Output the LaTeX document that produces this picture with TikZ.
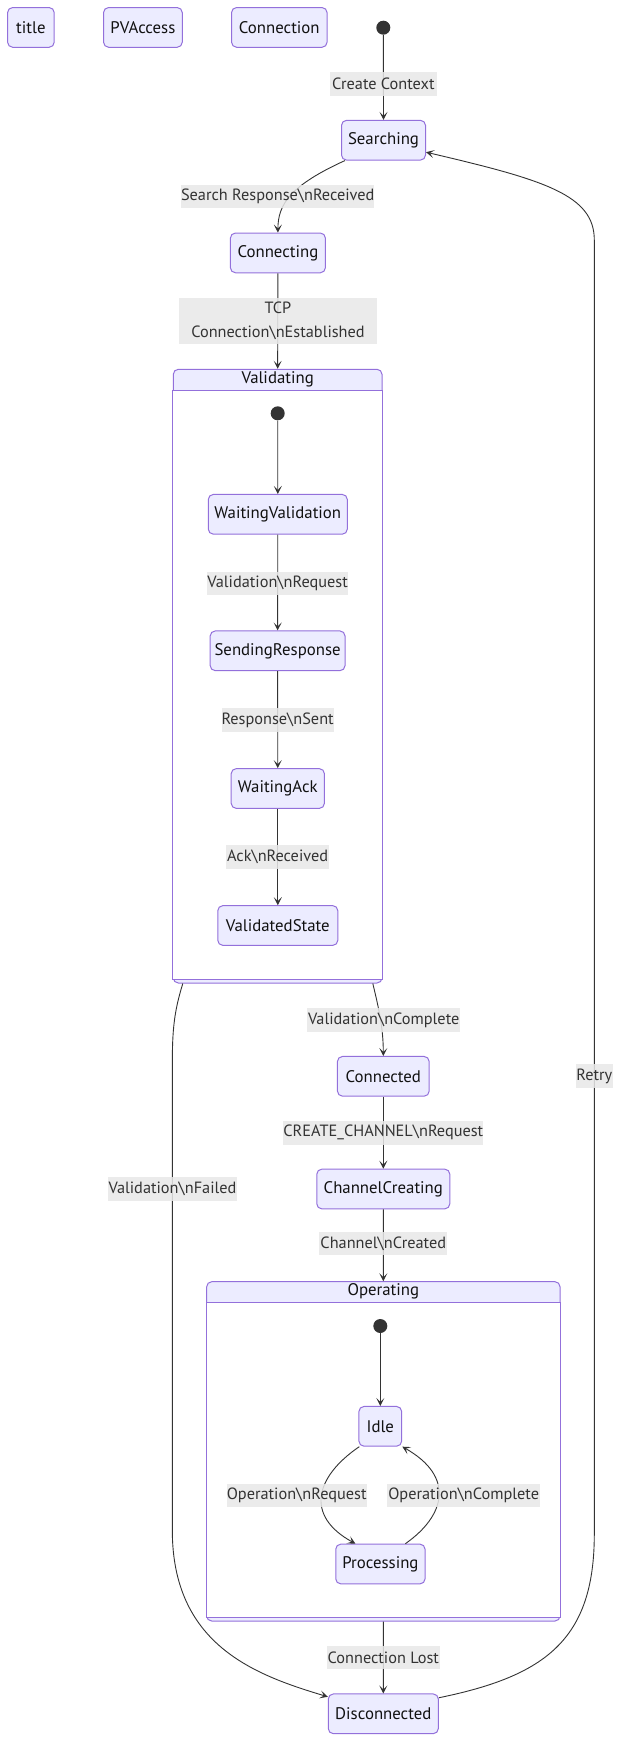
\documentclass[tikz,border=0pt]{standalone}
\usepackage{fontspec}
\setmainfont{PT Sans}
\usetikzlibrary{arrows.meta,calc}
\definecolor{nodefill}{HTML}{ECECFF}
\definecolor{nodeline}{HTML}{9370DB}
\definecolor{lblfill}{HTML}{E8E8E8}
\definecolor{edgec}{HTML}{333333}
\definecolor{txt}{HTML}{111111}
\begin{document}
\begin{tikzpicture}[x=1pt,y=-1pt,
  state/.style={draw=nodeline, fill=nodefill, rounded corners=5pt, line width=1pt,
    minimum height=39.7pt, inner sep=0pt, font=\fontsize{16.8}{19}\selectfont, text=txt},
  cluster/.style={draw=nodeline, fill=nodefill, rounded corners=5pt, line width=1pt, inner sep=0pt},
  clusterinner/.style={draw=nodeline, fill=white, line width=1pt},
  ctitle/.style={inner sep=0pt, font=\fontsize{16.8}{19}\selectfont, text=txt},
  lbl/.style={fill=lblfill, fill opacity=0.85, text opacity=1, text=edgec, inner sep=0pt,
    minimum height=23.4pt, font=\fontsize{16.3}{24}\selectfont, align=center},
  edge/.style={draw=edgec, line width=0.9pt, -{Stealth[length=8pt,width=8pt,inset=4pt]}},
  startdot/.style={circle, fill=edgec, minimum size=14pt, inner sep=0pt},
]
\useasboundingbox (0,0) rectangle (629,1762);

% ---- top row
\node[state, minimum width=46.6pt] (title) at (30.9,27.4) {title};
\node[state, minimum width=78.7pt] (pvaccess) at (142.9,27.4) {PVAccess};
\node[state, minimum width=95.5pt] (connection) at (279.3,27.4) {Connection};
\node[startdot] (s0) at (383.3,27.7) {};

% ---- main states
\node[state, minimum width=84pt] (searching) at (383.5,140.2) {Searching};
\node[state, minimum width=95pt] (connecting) at (277.9,252.9) {Connecting};

% ---- Validating cluster
\node[cluster, minimum width=208.7pt, minimum height=613.7pt] (validating) at (277.65,676.15) {};
\draw[clusterinner] ($(validating.north west)+(0,21.4)$) rectangle ($(validating.south east)+(0,-3.7)$);
\node[ctitle] (validatingtitle) at ($(validating.north)+(0,10.7)$) {Validating};
\node[startdot] (vstart) at (277.7,413.3) {};
\node[state, minimum width=139pt] (wv) at (277.8,514.3) {WaitingValidation};
\node[state, minimum width=134.8pt] (sr) at (277.6,650.8) {SendingResponse};
\node[state, minimum width=93.2pt] (wa) at (277.8,788.5) {WaitingAck};
\node[state, minimum width=120pt] (vs) at (277.8,925.5) {ValidatedState};

\node[state, minimum width=91.7pt] (connected) at (383.3,1076.3) {Connected};
\node[state, minimum width=133pt] (chcr) at (383.3,1189) {ChannelCreating};

% ---- Operating cluster
\node[cluster, minimum width=353.3pt, minimum height=339.3pt] (operating) at (383.35,1451.35) {};
\draw[clusterinner] ($(operating.north west)+(0,21)$) rectangle ($(operating.south east)+(0,-4.3)$);
\node[ctitle] (operatingtitle) at ($(operating.north)+(0,10.5)$) {Operating};
\node[startdot] (ostart) at (380.3,1326) {};
\node[state, minimum width=42.7pt] (idle) at (380.3,1426.3) {Idle};
\node[state, minimum width=89.3pt] (processing) at (380.4,1564) {Processing};

\node[state, minimum width=110pt] (disconnected) at (383.3,1713.8) {Disconnected};

% ---- edges
\draw[edge] (s0) -- (searching.north);
\draw[edge] ($(searching.south)+(-38.5,0)$) .. controls +(-55,25) and +(0,-28) .. (connecting.north);
\draw[edge] (connecting.south) -- (validating.north);
\draw[edge] (vstart) -- (wv.north);
\draw[edge] (wv) -- (sr);
\draw[edge] (sr) -- (wa);
\draw[edge] (wa) -- (vs);
\draw[edge] ($(validating.south east)+(-9.7,0)$) .. controls +(6,25) and +(0,-28) .. (connected.north);
\draw[edge] (connected) -- (chcr);
\draw[edge] (chcr.south) -- (operating.north);
\draw[edge] (ostart) -- (idle.north);
\draw[edge] ($(idle.south)+(-21,0)$) .. controls +(-44,30) and +(-51,-28) .. ($(processing.north)+(-25,0)$);
\draw[edge] ($(processing.north)+(25,0)$) .. controls +(40,-28) and +(53,30) .. ($(idle.south)+(22,0)$);
\draw[edge] (operating.south) -- (disconnected.north);
\draw[edge] ($(validating.south west)+(10,0)$) .. controls (174,1012) and (172.3,1030) .. (172.3,1065)
   -- (172.3,1530) .. controls (172.3,1645) and (255,1675) .. ($(disconnected.north west)+(0,3.3)$);
\draw[edge] ($(disconnected.north east)+(0,4.3)$) .. controls (545,1676) and (594,1640) .. (594.3,1535)
   -- (594.3,240) .. controls (594.3,195) and (545,180) .. ($(searching.east)+(0,12)$);

% ---- edge labels
\node[lbl, minimum width=106.7pt] (lcc) at (383.3,84) {Create Context};
\node[lbl, minimum width=193.4pt] (lsrr) at (277.7,196.5) {Search Response\textbackslash nReceived};
\node[lbl, minimum width=197.4pt, minimum height=46.6pt] (ltcp) at (278,321) {TCP\\Connection\textbackslash nEstablished};
\node[lbl, minimum width=141.5pt] (lvr) at (277.6,583.3) {Validation\textbackslash nRequest};
\node[lbl, minimum width=109pt] (lrs) at (277.6,720) {Response\textbackslash nSent};
\node[lbl, minimum width=103.3pt] (lar) at (277.6,857) {Ack\textbackslash nReceived};
\node[lbl, minimum width=152.7pt] (lvc) at (383.7,1020) {Validation\textbackslash nComplete};
\node[lbl, minimum width=196.7pt] (lccr) at (383.3,1132.8) {CREATE\_CHANNEL\textbackslash nRequest};
\node[lbl, minimum width=128pt] (lchc) at (383.3,1243.5) {Channel\textbackslash nCreated};
\node[lbl, minimum width=128.4pt] (lvf) at (172.5,1189) {Validation\textbackslash nFailed};
\node[lbl, minimum width=140pt] (lorq) at (296.7,1495.5) {Operation\textbackslash nRequest};
\node[lbl, minimum width=152.7pt] (locm) at (463.7,1495.5) {Operation\textbackslash nComplete};
\node[lbl, minimum width=113.3pt] (lcl) at (383.3,1657.5) {Connection Lost};
\node[lbl, minimum width=36.7pt] (lretry) at (594.3,1076) {Retry};
\end{tikzpicture}
\end{document}
